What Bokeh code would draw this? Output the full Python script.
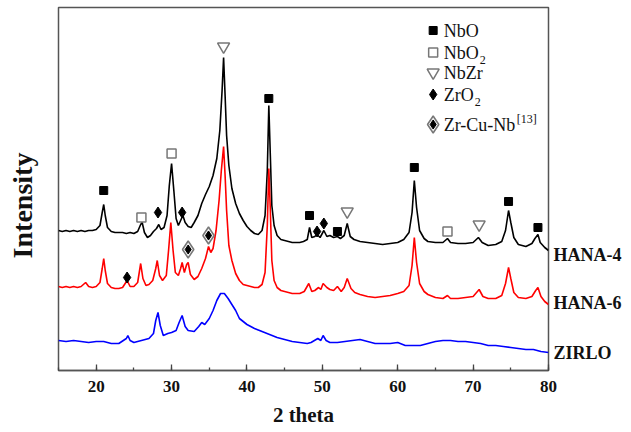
from bokeh.plotting import figure
from bokeh.models import Label, SingleIntervalTicker, FixedTicker, LinearAxis
from bokeh.embed import file_html
from bokeh.resources import INLINE

SERIF = "Liberation Serif"

# ---- XRD traces: (2 theta, intensity in arbitrary units, offset stacked) ----
hana4 = [(15.0,140),(15.5,139),(16.0,140),(16.5,139),(17.0,140),(17.5,139),(18.0,140),(18.5,139),(19.0,140),(19.5,140),
         (20.0,141),(20.5,145),(20.8,158),(21.0,166),(21.2,155),(21.5,143),(22.0,139),(22.5,138),(23.0,138),(23.5,138),
         (24.0,137),(24.5,138),(25.0,137),(25.5,139),(25.9,146),(26.1,148),(26.4,138),(26.8,133),(27.2,135),(27.6,139),
         (28.0,142),(28.3,146),(28.6,141),(29.0,143),(29.4,155),(29.7,185),(30.0,207),(30.3,180),(30.6,152),(30.9,145),
         (31.2,150),(31.5,155),(31.8,148),(32.2,144),(32.6,143),(33.0,148),(33.5,155),(34.0,167),(34.5,176),(35.0,184),
         (35.5,195),(36.0,212),(36.4,240),(36.7,280),(36.9,313),(37.1,275),(37.3,235),(37.6,205),(38.0,182),(38.5,167),
         (39.0,157),(39.5,150),(40.0,144),(40.5,140),(41.0,137),(41.5,136),(42.0,140),(42.4,155),(42.7,200),(42.9,265),
         (43.1,215),(43.3,165),(43.6,145),(44.0,135),(44.5,131),(45.0,130),(45.5,129),(46.0,128),(46.5,128),(47.0,128),
         (47.5,129),(48.0,131),(48.3,143),(48.6,133),(49.0,134),(49.3,136),(49.7,133),(50.2,140),(50.6,134),(51.0,135),
         (51.5,133),(52.0,134),(52.4,132),(52.9,135),(53.3,147),(53.7,134),(54.2,131),(55.0,129),(56.0,128),(57.0,127),
         (58.0,126),(59.0,127),(60.0,128),(60.8,131),(61.5,138),(61.9,158),(62.2,190),(62.5,163),(62.9,140),(63.5,132),
         (64.0,129),(65.0,128),(66.0,128),(66.6,132),(67.0,128),(68.0,127),(69.0,127),(70.0,128),(70.7,133),(71.2,128),
         (72.0,125),(73.0,126),(73.8,129),(74.3,140),(74.7,160),(75.0,148),(75.4,133),(76.0,126),(77.0,124),(77.8,127),
         (78.2,132),(78.6,136),(78.9,128),(79.5,123),(80.0,120)]

hana6 = [(15.0,84),(15.5,83),(16.0,84),(16.5,83),(17.0,84),(17.5,83),(18.0,84),(18.6,88),(19.0,84),(19.5,83),
         (20.0,84),(20.5,88),(20.8,102),(21.0,112),(21.2,100),(21.5,87),(22.0,83),(22.5,82),(23.0,82),(23.5,83),
         (24.1,90),(24.5,84),(25.0,84),(25.5,88),(25.9,107),(26.2,92),(26.6,85),(27.0,86),(27.5,90),(27.9,102),
         (28.1,110),(28.4,95),(28.8,90),(29.3,95),(29.6,120),(29.9,148),(30.2,120),(30.5,98),(30.9,95),(31.2,102),
         (31.4,108),(31.7,98),(32.0,106),(32.2,108),(32.5,96),(33.0,91),(33.5,94),(34.0,102),(34.5,112),(34.9,124),
         (35.2,118),(35.5,122),(35.9,140),(36.3,170),(36.6,200),(36.9,224),(37.1,195),(37.3,160),(37.6,125),(38.0,110),
         (38.5,97),(39.0,90),(39.5,86),(40.0,85),(40.5,84),(41.0,83),(41.5,83),(42.0,86),(42.4,98),(42.7,145),
         (42.9,202),(43.1,160),(43.3,110),(43.6,90),(44.0,83),(44.5,80),(45.0,79),(45.5,78),(46.0,77),(46.5,77),
         (47.0,77),(47.6,79),(48.2,87),(48.6,79),(49.0,80),(49.5,83),(49.8,81),(50.1,87),(50.6,83),(51.0,81),
         (51.5,80),(52.0,84),(52.5,79),(52.9,83),(53.3,92),(53.8,82),(54.3,78),(55.0,76),(56.0,74),(57.0,73),
         (58.0,74),(59.0,75),(60.0,77),(60.8,79),(61.5,85),(61.9,105),(62.2,133),(62.5,108),(62.9,87),(63.5,79),
         (64.0,76),(65.0,73),(66.0,72),(66.6,75),(67.0,72),(68.0,72),(69.0,73),(70.0,74),(70.8,81),(71.3,74),
         (72.0,72),(73.0,72),(73.8,75),(74.3,87),(74.7,103),(75.0,92),(75.4,78),(76.0,73),(77.0,72),(77.8,74),
         (78.3,80),(78.6,83),(79.0,74),(79.5,69),(80.0,66)]

zirlo = [(15.0,30),(16.0,29),(17.0,30),(18.0,29),(19.0,28),(20.0,29),(21.0,29),(22.0,27),(23.0,27),(24.0,32),
         (24.2,35),(24.5,30),(25.0,28),(26.0,30),(27.0,32),(27.6,37),(27.9,50),(28.2,58),(28.5,45),(28.9,35),
         (29.5,37),(30.0,38),(30.6,40),(31.0,48),(31.4,55),(31.8,44),(32.2,40),(33.0,39),(33.6,44),(34.0,48),
         (34.4,46),(35.0,52),(35.5,60),(36.0,70),(36.5,77),(37.0,77),(37.5,72),(38.0,66),(38.5,60),(39.0,52),
         (39.5,49),(40.0,46),(40.5,44),(41.0,42),(42.0,39),(43.0,36),(44.0,33),(45.0,31),(46.0,29),(47.0,28),
         (48.0,27),(48.5,28),(49.4,32),(49.8,30),(50.1,35),(50.5,30),(51.0,28),(52.0,28),(53.0,29),(54.0,30),
         (55.0,31),(56.0,29),(57.0,27),(58.0,27),(59.0,27),(60.0,28),(61.0,25),(62.0,25),(63.0,25),(64.0,27),
         (65.0,29),(66.0,30),(67.0,30),(68.0,29),(69.0,29),(70.0,28),(71.0,27),(72.0,25),(73.0,25),(74.0,24),
         (75.0,23),(76.0,22),(77.0,21),(78.0,21),(79.0,19),(80.0,18)]

series = [hana4, hana6, zirlo]
series_names = ["HANA-4", "HANA-6", "ZIRLO"]
series_colors = ["#000000", "#ff0000", "#0000ff"]
name_levels = [116.0, 68.0, 18.0]

# ---- phase identification markers (2 theta, intensity) ----
nbo_peaks = [(21.0,180),(42.9,272),(48.3,155),(52.0,139),(62.2,203),(74.7,169),(78.6,143)]
nbo2_peaks = [(26.0,153),(30.0,217),(66.6,139)]
nbzr_peaks = [(36.9,324),(53.3,159),(70.8,146)]
zro2_peaks = [(24.1,93),(28.2,158),(31.4,158),(49.3,139),(50.2,147)]
zrcunb_peaks = [(32.2,121),(34.9,135)]

y_title = "Intensity"
y_title_level = 165.0

p = figure(width=631, height=432, x_range=(15, 80), y_range=(0, 363),
           output_backend="svg", toolbar_location=None,
           min_border_left=58, min_border_right=83, min_border_top=7, min_border_bottom=62)
p.background_fill_color = "white"
p.border_fill_color = "white"
p.xgrid.grid_line_color = None
p.ygrid.grid_line_color = None
p.outline_line_color = "#555555"
p.outline_line_width = 1.5

xa = p.xaxis[0]
xa.ticker = SingleIntervalTicker(interval=10, num_minor_ticks=2)
xa.axis_line_color = "#555555"
xa.axis_line_width = 1.5
xa.major_tick_line_color = "#444444"
xa.minor_tick_line_color = "#444444"
xa.major_tick_line_width = 1.3
xa.minor_tick_line_width = 1.3
xa.major_tick_in = 6
xa.major_tick_out = 0
xa.minor_tick_in = 3
xa.minor_tick_out = 0
xa.major_label_text_font = SERIF
xa.major_label_text_font_style = "bold"
xa.major_label_text_font_size = "17px"
xa.major_label_text_color = "#111111"
xa.major_label_standoff = 10
xa.axis_label = "2 theta"
xa.axis_label_text_font = SERIF
xa.axis_label_text_font_style = "bold"
xa.axis_label_text_font_size = "21px"
xa.axis_label_text_color = "#111111"
xa.axis_label_standoff = 8

# left axis: no numbers, only the vertical title placed where the original has it
ya = p.yaxis[0]
ya.ticker = FixedTicker(ticks=[y_title_level])
ya.major_label_overrides = {y_title_level: y_title}
ya.major_label_orientation = "vertical"
ya.axis_line_color = None
ya.major_tick_line_color = None
ya.minor_tick_line_color = None
ya.major_tick_in = 0
ya.major_tick_out = 0
ya.major_label_standoff = 21
ya.major_label_text_font = SERIF
ya.major_label_text_font_style = "bold"
ya.major_label_text_font_size = "28px"
ya.major_label_text_color = "#111111"

# trace names on the right, as labels of an axis without line or ticks
ra = LinearAxis(ticker=FixedTicker(ticks=name_levels),
                major_label_overrides={lv: nm for lv, nm in zip(name_levels, series_names)})
ra.axis_line_color = None
ra.major_tick_line_color = None
ra.minor_tick_line_color = None
ra.major_tick_in = 0
ra.major_tick_out = 0
ra.major_label_standoff = 5
ra.major_label_text_font = SERIF
ra.major_label_text_font_style = "bold"
ra.major_label_text_font_size = "18px"
ra.major_label_text_color = "#111111"
p.add_layout(ra, "right")

for data, color in zip(series, series_colors):
    xs = [d[0] for d in data]
    ys = [d[1] for d in data]
    p.line(xs, ys, line_color=color, line_width=1.6)

def col(pts, i):
    return [q[i] for q in pts]

p.scatter(col(nbo_peaks, 0), col(nbo_peaks, 1), marker="square", size=8,
          fill_color="black", line_color="black")
p.scatter(col(nbo2_peaks, 0), col(nbo2_peaks, 1), marker="square", size=9,
          fill_color="white", line_color="#777777", line_width=1.5)
p.scatter(col(nbzr_peaks, 0), col(nbzr_peaks, 1), marker="inverted_triangle", size=12,
          fill_color="white", line_color="#777777", line_width=1.5)
p.scatter(col(zro2_peaks, 0), col(zro2_peaks, 1), marker="diamond", size=11,
          fill_color="black", line_color="black")
p.scatter(col(zrcunb_peaks, 0), col(zrcunb_peaks, 1), marker="diamond", size=17,
          fill_color="#eeeeee", line_color="#777777", line_width=1.5)
p.scatter(col(zrcunb_peaks, 0), col(zrcunb_peaks, 1), marker="diamond", size=9,
          fill_color="black", line_color="black")

# ---- legend (drawn by hand so subscripts / superscripts are possible) ----
leg_mx = 64.7
leg_tx = 66.1
leg_rows = [340, 318, 298, 276, 246]
p.scatter([leg_mx], [leg_rows[0]], marker="square", size=8, fill_color="black", line_color="black")
p.scatter([leg_mx], [leg_rows[1]], marker="square", size=9, fill_color="white",
          line_color="#777777", line_width=1.5)
p.scatter([leg_mx], [leg_rows[2]], marker="inverted_triangle", size=12, fill_color="white",
          line_color="#777777", line_width=1.5)
p.scatter([leg_mx], [leg_rows[3]], marker="diamond", size=11, fill_color="black", line_color="black")
p.scatter([leg_mx], [leg_rows[4]], marker="diamond", size=17, fill_color="#eeeeee",
          line_color="#777777", line_width=1.5)
p.scatter([leg_mx], [leg_rows[4]], marker="diamond", size=9, fill_color="black", line_color="black")

def lab(x, y, text, size, x_offset=0):
    p.add_layout(Label(x=x, y=y, text=text, x_offset=x_offset, text_font=SERIF,
                       text_font_size=size, text_color="#111111",
                       text_align="left", text_baseline="middle"))

lab(leg_tx, leg_rows[0], "NbO", "18px")
lab(leg_tx, leg_rows[1], "NbO", "18px")
lab(leg_tx, leg_rows[1] - 7, "2", "12px", x_offset=36)
lab(leg_tx, leg_rows[2], "NbZr", "18px")
lab(leg_tx, leg_rows[3], "ZrO", "18px")
lab(leg_tx, leg_rows[3] - 7, "2", "12px", x_offset=31)
lab(leg_tx, leg_rows[4], "Zr-Cu-Nb", "18px")
lab(leg_tx, leg_rows[4] + 6, "[13]", "12px", x_offset=73)

open("out.html", "w").write(file_html(p, INLINE))
